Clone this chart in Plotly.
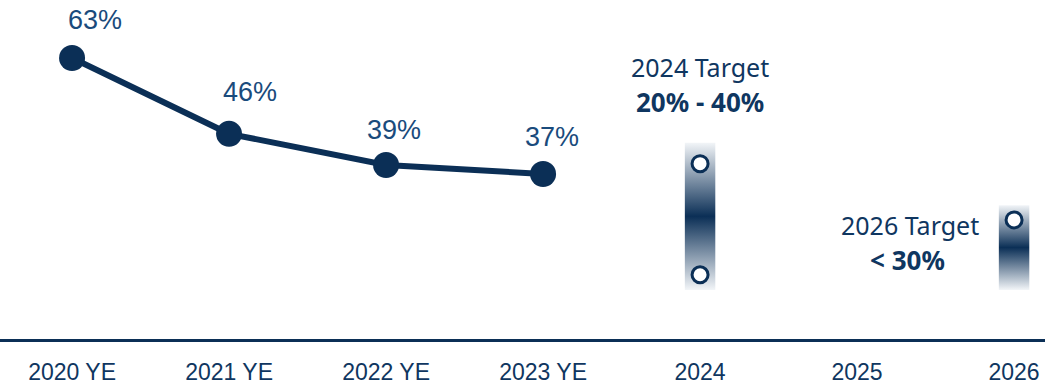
import plotly.graph_objects as go

# ---- data ----
categories = ["2020 YE", "2021 YE", "2022 YE", "2023 YE", "2024", "2025", "2026"]
actual_cats = ["2020 YE", "2021 YE", "2022 YE", "2023 YE"]
actual_values = [63, 46, 39, 37]
actual_labels = ["63%", "46%", "39%", "37%"]

target_cats = ["2024", "2026"]
target_band_low = [11, 11]
target_band_high = [44, 30]
target_points_2024 = [39.3, 14.4]
target_points_2026 = [26.7]
target_title = ["2024 Target", "2026 Target"]
target_range_text = ["20% - 40%", "< 30%"]

# ---- styling ----
NAVY = "#0b2f56"
LABEL_BLUE = "#1a4b7c"
TEXT_NAVY = "#0f3660"
LIGHT = "#f2f5f8"

idx = {c: i for i, c in enumerate(categories)}

fig = go.Figure()

# gradient target bands
half_w = 0.097
for c, lo, hi in zip(target_cats, target_band_low, target_band_high):
    x0 = idx[c] - half_w
    x1 = idx[c] + half_w
    fig.add_trace(go.Scatter(
        x=[x0, x1, x1, x0, x0], y=[lo, lo, hi, hi, lo],
        mode="lines", fill="toself", line=dict(width=0),
        fillgradient=dict(type="vertical",
                          colorscale=[[0, LIGHT], [0.5, NAVY], [1, LIGHT]]),
        hoverinfo="skip", showlegend=False))

# target circles
fig.add_trace(go.Scatter(
    x=[idx["2024"]] * len(target_points_2024) + [idx["2026"]] * len(target_points_2026),
    y=target_points_2024 + target_points_2026,
    mode="markers",
    marker=dict(size=16, color="white", line=dict(color=NAVY, width=3)),
    showlegend=False, hoverinfo="skip"))

# actual line
fig.add_trace(go.Scatter(
    x=[idx[c] for c in actual_cats], y=actual_values,
    mode="lines+markers",
    line=dict(color=NAVY, width=6),
    marker=dict(size=26, color=NAVY),
    showlegend=False))

# value labels
label_dx = [23, 21, 8, 9]
label_dy = [38, 42, 35, 37]
for c, v, t, dx, dy in zip(actual_cats, actual_values, actual_labels, label_dx, label_dy):
    fig.add_annotation(x=idx[c], y=v, text=t, showarrow=False,
                       xshift=dx, yshift=dy,
                       font=dict(family="Liberation Sans, Arial", size=27, color=LABEL_BLUE))

# target texts
tfont = "Noto Sans, Lato, sans-serif"
fig.add_annotation(x=idx["2024"], y=60.9, text=target_title[0], showarrow=False,
                   font=dict(family=tfont, size=25, color=TEXT_NAVY))
fig.add_annotation(x=idx["2024"], y=53.1, text="<b>" + target_range_text[0] + "</b>", showarrow=False,
                   font=dict(family=tfont, size=26, color=TEXT_NAVY))
fig.add_annotation(x=idx["2026"], y=25.6, text=target_title[1], showarrow=False, xshift=-104,
                   font=dict(family=tfont, size=25, color=TEXT_NAVY))
fig.add_annotation(x=idx["2026"], y=17.8, text="<b>" + target_range_text[1] + "</b>", showarrow=False, xshift=-107,
                   font=dict(family=tfont, size=26, color=TEXT_NAVY))

fig.update_layout(
    width=1045, height=385,
    margin=dict(l=0, r=0, t=0, b=43),
    paper_bgcolor="white", plot_bgcolor="white",
    xaxis=dict(range=[-0.459, 6.197], tickvals=list(range(len(categories))),
               ticktext=categories, showgrid=False, zeroline=False,
               showline=True, linecolor=NAVY, linewidth=3,
               ticks="outside", ticklen=10, tickcolor="rgba(0,0,0,0)",
               tickfont=dict(family="Liberation Sans, Arial", size=23, color=TEXT_NAVY)),
    yaxis=dict(range=[0, 76], visible=False),
)

fig.write_html("out.html")
